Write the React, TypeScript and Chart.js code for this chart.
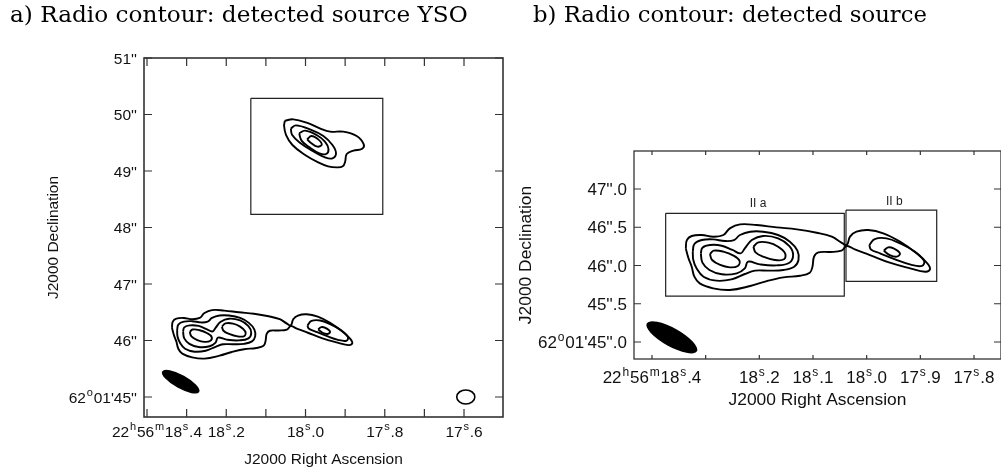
import React, { useEffect, useRef } from "react";
import { Chart, registerables } from "chart.js";
Chart.register(...registerables);

type P = [number, number];

// Coordinates: RA in seconds of 22h56m, Dec in arcsec of +62°01'
const outerContour: P[] = [
  [18.337, 46.224], [18.335, 46.333], [18.326, 46.386], [18.307, 46.399], [18.286, 46.377],
  [18.267, 46.399], [18.255, 46.486], [18.236, 46.538], [18.205, 46.529], [18.168, 46.499],
  [18.13, 46.473], [18.093, 46.429], [18.065, 46.377], [18.047, 46.299], [18.037, 46.268],
  [18.031, 46.377], [18.019, 46.442], [17.997, 46.464], [17.969, 46.421], [17.938, 46.312],
  [17.907, 46.159], [17.887, 46.028], [17.882, 45.95], [17.891, 45.919], [17.919, 45.963],
  [17.957, 46.037], [17.994, 46.137], [18.022, 46.211], [18.037, 46.255], [18.047, 46.194],
  [18.068, 46.177], [18.09, 46.172], [18.098, 46.116], [18.101, 45.985], [18.106, 45.906],
  [18.124, 45.867], [18.155, 45.845], [18.186, 45.797], [18.217, 45.732], [18.255, 45.68],
  [18.286, 45.702], [18.311, 45.767], [18.321, 45.854], [18.326, 45.985], [18.332, 46.094],
];
const iiaLevel2: P[] = [
  [18.324, 46.181], [18.321, 46.281], [18.307, 46.333], [18.286, 46.342], [18.264, 46.32],
  [18.247, 46.333], [18.236, 46.399], [18.217, 46.442], [18.193, 46.442], [18.165, 46.399],
  [18.143, 46.312], [18.129, 46.194], [18.127, 46.072], [18.135, 45.985], [18.155, 45.941],
  [18.183, 45.933], [18.208, 45.933], [18.227, 45.889], [18.252, 45.819], [18.28, 45.802],
  [18.304, 45.854], [18.317, 45.963], [18.323, 46.072],
];
const iiaLevel3: P[] = [
  [18.309, 46.159], [18.306, 46.233], [18.292, 46.268], [18.27, 46.259], [18.25, 46.203],
  [18.235, 46.159], [18.227, 46.224], [18.214, 46.333], [18.193, 46.386], [18.165, 46.355],
  [18.144, 46.255], [18.137, 46.137], [18.144, 46.037], [18.168, 46.002], [18.199, 46.015],
  [18.221, 46.05], [18.227, 45.963], [18.242, 45.898], [18.27, 45.885], [18.293, 45.941],
  [18.306, 46.037],
];
const iiaPeakEast: P[] = [
  [18.292, 46.15], [18.285, 46.194], [18.267, 46.181], [18.248, 46.129], [18.237, 46.063],
  [18.24, 45.994], [18.255, 45.976], [18.273, 46.007], [18.288, 46.072],
];
const iiaPeakWest: P[] = [
  [18.211, 46.246], [18.202, 46.303], [18.183, 46.299], [18.165, 46.246], [18.152, 46.159],
  [18.154, 46.081], [18.171, 46.072], [18.193, 46.116], [18.207, 46.172],
];
const iibLevel2: P[] = [
  [17.995, 46.268], [17.985, 46.346], [17.963, 46.355], [17.938, 46.29], [17.91, 46.181],
  [17.893, 46.06], [17.897, 45.995], [17.918, 46.012], [17.947, 46.081], [17.975, 46.159],
  [17.992, 46.211],
];
const iibLevel3: P[] = [
  [17.968, 46.194], [17.96, 46.238], [17.95, 46.224], [17.938, 46.159], [17.944, 46.116],
  [17.957, 46.137],
];
const ysoLevel1: P[] = [
  [18.052, 49.891], [18.031, 49.914], [17.997, 49.855], [17.964, 49.755], [17.938, 49.696],
  [17.905, 49.696], [17.871, 49.619], [17.853, 49.472], [17.858, 49.389], [17.879, 49.36],
  [17.896, 49.301], [17.9, 49.165], [17.906, 49.083], [17.921, 49.065], [17.943, 49.083],
  [17.968, 49.153], [18.001, 49.283], [18.033, 49.46], [18.049, 49.637], [18.054, 49.796],
];
const ysoLevel2: P[] = [
  [18.037, 49.755], [18.024, 49.808], [17.989, 49.737], [17.955, 49.619], [17.932, 49.46],
  [17.923, 49.313], [17.932, 49.224], [17.951, 49.242], [17.982, 49.354], [18.014, 49.501],
  [18.034, 49.643],
];
const ysoLevel3: P[] = [
  [18.016, 49.667], [18.001, 49.714], [17.972, 49.637], [17.951, 49.519], [17.942, 49.389],
  [17.948, 49.301], [17.965, 49.313], [17.99, 49.419], [18.01, 49.537],
];
const ysoLevel4: P[] = [
  [17.996, 49.56], [17.985, 49.619], [17.968, 49.56], [17.959, 49.466], [17.97, 49.431],
  [17.987, 49.501],
];
const ysoBox: P[] = [[18.138, 50.286], [17.805, 50.286], [17.805, 48.233], [18.138, 48.233]];
const iiaBox: P[] = [[18.3745, 46.682], [18.0417, 46.682], [18.0417, 45.601], [18.3745, 45.601]];
const iibBox: P[] = [[18.0385, 46.725], [17.8695, 46.725], [17.8695, 45.793], [18.0385, 45.793]];
const regionNames = ["II a", "II b"];
const regionNamePos: P[] = [[18.2025, 46.804], [17.9485, 46.834]];

// synthesized beam: major, minor (arcsec), position angle (deg)
const beamShape = [0.75, 0.24, 61];
const beamPosA: P = [18.315, 45.271];
const beamPosB: P = [18.363, 45.061];
const openMarkA: P = [17.5955, 45.0];
const openMarkShape = [0.32, 0.25, 90];

const raTicksA = [18.4, 18.3, 18.2, 18.1, 18.0, 17.9, 17.8, 17.7, 17.6];
const raLabelsA = ["22^h56^m18^s.4", "", "18^s.2", "", "18^s.0", "", "17^s.8", "", "17^s.6"];
const decTicksA = [45, 46, 47, 48, 49, 50, 51];
const decLabelsA = ["62^o01'45''", "46''", "47''", "48''", "49''", "50''", "51''"];

const raTicksB = [18.4, 18.3, 18.2, 18.1, 18.0, 17.9, 17.8];
const raLabelsB = ["22^h56^m18^s.4", "", "18^s.2", "18^s.1", "18^s.0", "17^s.9", "17^s.8"];
const decTicksB = [45, 45.5, 46, 46.5, 47];
const decLabelsB = ["62^o01'45''.0", "45''.5", "46''.0", "46''.5", "47''.0"];

const SANS = '"Liberation Sans", Arial, sans-serif';
const SERIF = '"DejaVu Serif", "Liberation Serif", serif';

function parseRich(s: string) {
  const segs: { t: string; sup: boolean }[] = [];
  for (let i = 0; i < s.length; i++) {
    const ch = s[i];
    if (ch === "^" && i + 1 < s.length) {
      segs.push({ t: s[i + 1], sup: true });
      i++;
    } else {
      const last = segs[segs.length - 1];
      if (last && !last.sup) last.t += ch;
      else segs.push({ t: ch, sup: false });
    }
  }
  return segs;
}

function drawRich(ctx: CanvasRenderingContext2D, s: string, x: number, yBase: number, size: number, align: string) {
  const segs = parseRich(s);
  const normal = `${size}px ${SANS}`;
  const small = `${Math.round(size * 0.72)}px ${SANS}`;
  const gap = size * 0.05;
  let w = 0;
  const widths = segs.map((sg) => {
    ctx.font = sg.sup ? small : normal;
    const ww = ctx.measureText(sg.t).width + (sg.sup ? gap * 2 : 0);
    w += ww;
    return ww;
  });
  let cx = align === "center" ? x - w / 2 : align === "right" ? x - w : x;
  ctx.textAlign = "left";
  ctx.textBaseline = "alphabetic";
  segs.forEach((sg, i) => {
    ctx.font = sg.sup ? small : normal;
    ctx.fillText(sg.t, cx + (sg.sup ? gap : 0), sg.sup ? yBase - size * 0.42 : yBase);
    cx += widths[i];
  });
}

interface PanelCfg {
  id: string;
  xMin: number; xMax: number; yMin: number; yMax: number;
  padding: { left: number; top: number; right: number; bottom: number };
  title: string; titleX: number; titleWidth: number;
  raTicks: number[]; raLabels: string[]; decTicks: number[]; decLabels: string[];
  tickLenX: number; tickLenY: number; tickFont: number; axisFont: number;
  xLabelGap: number; yLabelGap: number; xTitleY: number; yTitleX: number;
  firstLabelShift: number;
  frameWidth: number;
  contours: P[][];
  boxes: P[][];
  beamAt: P;
  openMark?: P;
  names?: boolean;
}

const panelA: PanelCfg = {
  id: "a",
  xMin: 17.5016, xMax: 18.4076, yMin: 44.646, yMax: 51,
  padding: { left: 144, top: 58, right: 498, bottom: 55 },
  title: "a) Radio contour: detected source YSO", titleX: 10, titleWidth: 458,
  raTicks: raTicksA, raLabels: raLabelsA, decTicks: decTicksA, decLabels: decLabelsA,
  tickLenX: 8, tickLenY: 8, tickFont: 15.5, axisFont: 15.5,
  xLabelGap: 20, yLabelGap: 7, xTitleY: 460, yTitleX: 54,
  firstLabelShift: 10,
  frameWidth: 1.6,
  contours: [outerContour, iiaLevel2, iiaLevel3, iiaPeakEast, iiaPeakWest, iibLevel2, iibLevel3,
    ysoLevel1, ysoLevel2, ysoLevel3, ysoLevel4],
  boxes: [ysoBox],
  beamAt: beamPosA,
  openMark: openMarkA,
};

const panelB: PanelCfg = {
  id: "b",
  xMin: 17.7497, xMax: 18.4335, yMin: 44.778, yMax: 47.497,
  padding: { left: 634, top: 151, right: 0, bottom: 113 },
  title: "b) Radio contour: detected source", titleX: 533, titleWidth: 394,
  raTicks: raTicksB, raLabels: raLabelsB, decTicks: decTicksB, decLabels: decLabelsB,
  tickLenX: 4, tickLenY: 7, tickFont: 17, axisFont: 17.4,
  xLabelGap: 24, yLabelGap: 7, xTitleY: 400, yTitleX: 526,
  firstLabelShift: 0,
  frameWidth: 1.3,
  contours: [outerContour, iiaLevel2, iiaLevel3, iiaPeakEast, iiaPeakWest, iibLevel2, iibLevel3],
  boxes: [iiaBox, iibBox],
  beamAt: beamPosB,
  names: true,
};

function drawEllipse(chart: any, at: P, shape: number[], filled: boolean) {
  const { ctx, scales } = chart;
  const x = scales.x, y = scales.y;
  const cx = x.getPixelForValue(at[0]);
  const cy = y.getPixelForValue(at[1]);
  const pxPerArcsec = Math.abs(y.getPixelForValue(at[1] + 1) - y.getPixelForValue(at[1]));
  const pa = (shape[2] * Math.PI) / 180;
  const rot = Math.atan2(-Math.cos(pa), -Math.sin(pa));
  ctx.beginPath();
  ctx.ellipse(cx, cy, (shape[0] / 2) * pxPerArcsec, (shape[1] / 2) * pxPerArcsec, rot, 0, Math.PI * 2);
  if (filled) {
    ctx.fillStyle = "#000";
    ctx.fill();
  } else {
    ctx.strokeStyle = "#000";
    ctx.lineWidth = 1.6;
    ctx.stroke();
  }
}

function makePlugin(cfg: PanelCfg) {
  return {
    id: "panel-" + cfg.id,
    afterDatasetsDraw(chart: any) {
      const { ctx, chartArea: ca, scales } = chart;
      const x = scales.x, y = scales.y;
      ctx.save();
      drawEllipse(chart, cfg.beamAt, beamShape, true);
      if (cfg.openMark) drawEllipse(chart, cfg.openMark, openMarkShape, false);

      if (cfg.names) {
        ctx.fillStyle = "#222";
        ctx.font = `12px ${SANS}`;
        ctx.textAlign = "center";
        ctx.textBaseline = "middle";
        regionNames.forEach((n, i) => {
          ctx.fillText(n, x.getPixelForValue(regionNamePos[i][0]), y.getPixelForValue(regionNamePos[i][1]));
        });
      }

      // frame
      ctx.strokeStyle = "#333";
      ctx.lineWidth = cfg.frameWidth;
      ctx.strokeRect(ca.left, ca.top, ca.right - ca.left, ca.bottom - ca.top);

      // ticks
      ctx.lineWidth = 1.2;
      ctx.beginPath();
      cfg.raTicks.forEach((v) => {
        const px = x.getPixelForValue(v);
        ctx.moveTo(px, ca.bottom);
        ctx.lineTo(px, ca.bottom - cfg.tickLenX);
        ctx.moveTo(px, ca.top);
        ctx.lineTo(px, ca.top + cfg.tickLenX);
      });
      cfg.decTicks.forEach((v) => {
        const py = y.getPixelForValue(v);
        ctx.moveTo(ca.left, py);
        ctx.lineTo(ca.left + cfg.tickLenY, py);
        ctx.moveTo(ca.right, py);
        ctx.lineTo(ca.right - cfg.tickLenY, py);
      });
      ctx.stroke();

      // tick labels
      ctx.fillStyle = "#111";
      cfg.raTicks.forEach((v, i) => {
        const lab = cfg.raLabels[i];
        if (!lab) return;
        const shift = i === 0 ? cfg.firstLabelShift : 0;
        drawRich(ctx, lab, x.getPixelForValue(v) + shift, ca.bottom + cfg.xLabelGap, cfg.tickFont, "center");
      });
      cfg.decTicks.forEach((v, i) => {
        const lab = cfg.decLabels[i];
        if (!lab) return;
        drawRich(ctx, lab, ca.left - cfg.yLabelGap, y.getPixelForValue(v) + cfg.tickFont * 0.36, cfg.tickFont, "right");
      });

      // axis titles
      ctx.font = `${cfg.axisFont}px ${SANS}`;
      ctx.textAlign = "center";
      ctx.textBaseline = "middle";
      ctx.fillText("J2000 Right Ascension", (ca.left + Math.min(ca.right, 1001)) / 2, cfg.xTitleY);
      ctx.save();
      ctx.translate(cfg.yTitleX, (ca.top + ca.bottom) / 2);
      ctx.rotate(-Math.PI / 2);
      ctx.fillText("J2000 Declination", 0, 0);
      ctx.restore();

      // panel title
      ctx.fillStyle = "#000";
      ctx.font = `20px ${SERIF}`;
      const m = ctx.measureText(cfg.title).width;
      const size = (20 * cfg.titleWidth) / m;
      ctx.font = `${size}px ${SERIF}`;
      ctx.textAlign = "left";
      ctx.textBaseline = "alphabetic";
      ctx.fillText(cfg.title, cfg.titleX, 22);
      ctx.restore();
    },
  };
}

function toPoints(c: P[], closed: boolean) {
  const pts = c.map(([a, b]) => ({ x: a, y: b }));
  if (closed) pts.push({ x: c[0][0], y: c[0][1] });
  return pts;
}

function Panel({ cfg }: { cfg: PanelCfg }) {
  const ref = useRef<HTMLCanvasElement | null>(null);
  useEffect(() => {
    if (!ref.current) return;
    const datasets: any[] = [];
    cfg.contours.forEach((c) =>
      datasets.push({
        data: toPoints(c, true),
        showLine: true,
        pointRadius: 0,
        borderColor: "#000",
        borderWidth: 1.9,
        tension: 0.4,
        fill: false,
      })
    );
    cfg.boxes.forEach((b) =>
      datasets.push({
        data: toPoints(b, true),
        showLine: true,
        pointRadius: 0,
        borderColor: "#222",
        borderWidth: 1.2,
        tension: 0,
        fill: false,
      })
    );
    const chart = new Chart(ref.current, {
      type: "scatter",
      data: { datasets },
      options: {
        animation: false,
        responsive: false,
        maintainAspectRatio: false,
        events: [],
        layout: { padding: cfg.padding },
        scales: {
          x: { type: "linear", min: cfg.xMin, max: cfg.xMax, reverse: true, display: false },
          y: { type: "linear", min: cfg.yMin, max: cfg.yMax, display: false },
        },
        plugins: { legend: { display: false }, tooltip: { enabled: false } },
      },
      plugins: [makePlugin(cfg)],
    } as any);
    return () => chart.destroy();
  }, [cfg]);
  return (
    <canvas
      ref={ref}
      width={1001}
      height={472}
      style={{ position: "absolute", left: 0, top: 0, width: 1001, height: 472 }}
    />
  );
}

export default function App() {
  return (
    <div
      style={{
        position: "fixed",
        left: 0,
        top: 0,
        width: 1001,
        height: 472,
        background: "#fff",
        overflow: "hidden",
      }}
    >
      <Panel cfg={panelA} />
      <Panel cfg={panelB} />
    </div>
  );
}
